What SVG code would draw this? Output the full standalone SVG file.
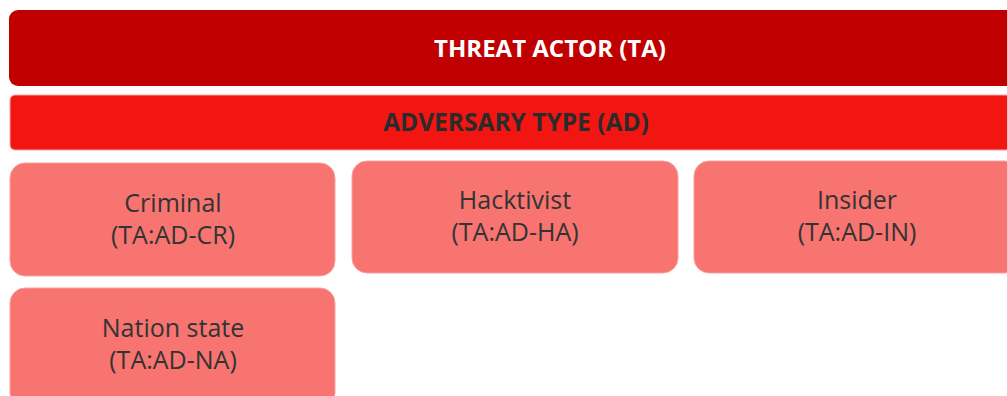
<svg xmlns="http://www.w3.org/2000/svg" width="1007" height="396" viewBox="0 0 1007 396">
<style>
.bar1{fill:#C00000}
.bar2{fill:#F21511;stroke:#F7A8A6;stroke-width:1}
.box{fill:#F87471;stroke:#F9A09E;stroke-width:1}
.h1{font-family:"Open Sans","Liberation Sans",sans-serif;font-weight:bold;font-size:24px;fill:#FFFFFF;text-anchor:middle}
.h2{font-family:"Open Sans","Liberation Sans",sans-serif;font-weight:bold;font-size:24.5px;fill:#2B2B2B;text-anchor:middle}
.t{font-family:"Open Sans","Liberation Sans",sans-serif;font-size:25px;fill:#333333;text-anchor:middle}
</style>
<rect width="1007" height="396" fill="#FFFFFF"/>
<g id="threat-actor">
<rect class="bar1" x="9" y="10" width="1090" height="76" rx="9"/>
<text class="h1" x="550" y="57">THREAT ACTOR (TA)</text>
</g>
<g id="adversary-type">
<rect class="bar2" x="10" y="95" width="1020" height="55" rx="5"/>
<text class="h2" x="516" y="131">ADVERSARY TYPE (AD)</text>
</g>
<g id="criminal">
<rect class="box" x="10" y="163" width="325" height="113" rx="15"/>
<text class="t" x="173" y="212">Criminal</text>
<text class="t" x="173" y="244">(TA:AD-CR)</text>
</g>
<g id="hacktivist">
<rect class="box" x="352" y="161" width="326" height="112" rx="15"/>
<text class="t" x="515" y="209">Hacktivist</text>
<text class="t" x="515" y="241">(TA:AD-HA)</text>
</g>
<g id="insider">
<rect class="box" x="694" y="161" width="326" height="112" rx="15"/>
<text class="t" x="857" y="209">Insider</text>
<text class="t" x="857" y="241">(TA:AD-IN)</text>
</g>
<g id="nation-state">
<rect class="box" x="10" y="288" width="325" height="120" rx="15"/>
<text class="t" x="173" y="337">Nation state</text>
<text class="t" x="173" y="369">(TA:AD-NA)</text>
</g>
<g id="connectors"></g>
</svg>
